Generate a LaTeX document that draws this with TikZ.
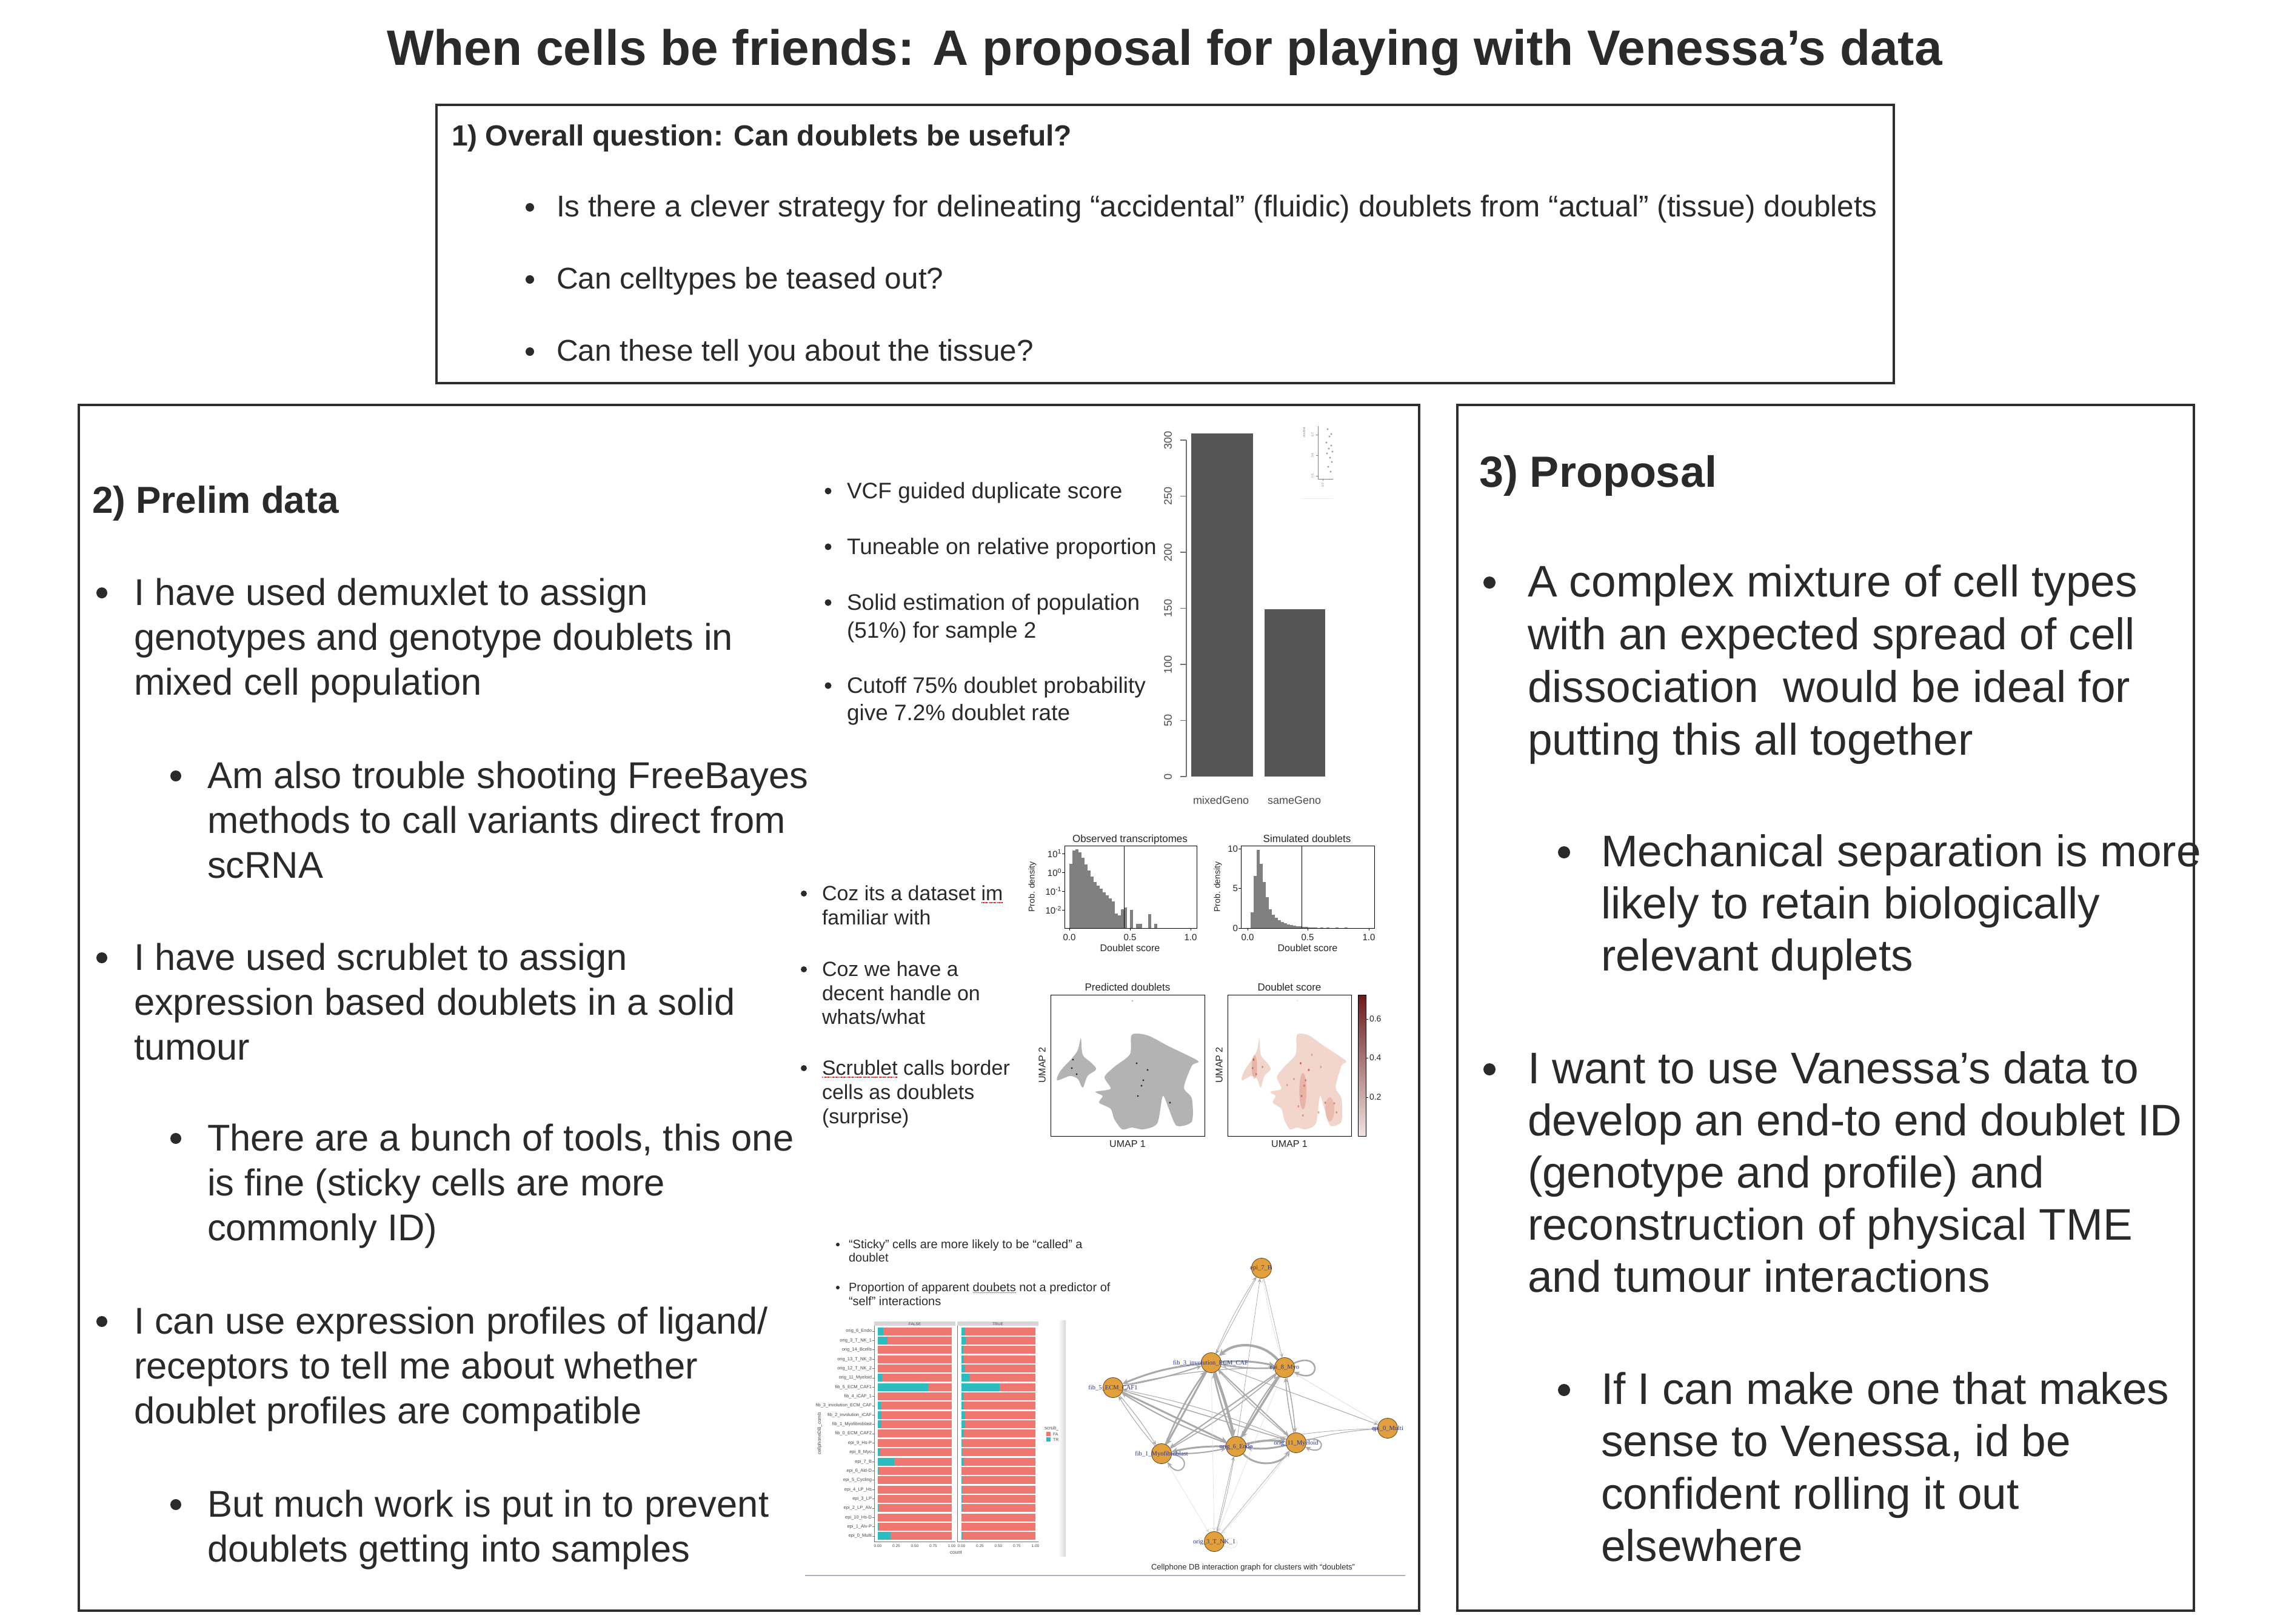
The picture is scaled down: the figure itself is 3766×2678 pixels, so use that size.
\documentclass[tikz,border=0pt]{standalone}
\usepackage{fontspec}
\setmainfont{Liberation Sans}
\newfontfamily\netserif{Liberation Serif}
\usetikzlibrary{arrows.meta}
\definecolor{txt}{HTML}{2A2A2A}
\definecolor{boxc}{HTML}{2E2E2E}
\definecolor{barc}{HTML}{555555}
\definecolor{axc}{HTML}{707070}
\definecolor{axt}{HTML}{4A4A4A}
\definecolor{histc}{HTML}{808080}
\definecolor{umapg}{HTML}{B3B3B3}
\definecolor{umapr}{HTML}{F2D6CC}
\definecolor{umaprd}{HTML}{C8553F}
\definecolor{salm}{HTML}{EF776F}
\definecolor{tealc}{HTML}{2CBBBF}
\definecolor{stripc}{HTML}{D6D6D6}
\definecolor{nodeo}{HTML}{E1A03B}
\definecolor{nodeb}{HTML}{5A4526}
\definecolor{netblue}{HTML}{2A3590}
\definecolor{edgeg}{HTML}{A9A9A9}
\definecolor{edgel}{HTML}{DCDCDC}
\definecolor{rulec}{HTML}{A9B3BE}
\definecolor{cbtop}{HTML}{6B1A1C}
\definecolor{cbmid}{HTML}{D0604A}
\definecolor{cbbot}{HTML}{F1E4E1}
\newcommand\myfs[1]{\fontsize{#1}{#1}\selectfont}
\newcommand\umapblobs[1]{%
  \fill[#1] plot[smooth cycle, tension=0.55] coordinates {(1783,1713) (1786,1740) (1800,1753) (1808,1764) (1794,1775) (1786,1794) (1778,1780) (1765,1775) (1744,1782) (1749,1767) (1768,1746) (1778,1732)};
  \fill[#1] plot[smooth cycle, tension=0.45] coordinates {(1867,1707) (1893,1708) (1928,1726) (1976,1750) (1966,1758) (1953,1794) (1966,1812) (1966,1850) (1941,1857) (1928,1829) (1918,1808) (1909,1853) (1886,1863) (1867,1860) (1851,1863) (1838,1846) (1832,1829) (1813,1819) (1819,1808) (1807,1801) (1832,1796) (1822,1777) (1838,1760) (1864,1739)};
  \fill[#1] (1868,1651) circle (1.5);}
\pgfdeclarelayer{bglayer}
\pgfdeclarelayer{edgelayer}
\pgfsetlayers{bglayer,edgelayer,main}
\begin{document}
\begin{tikzpicture}[x=1pt,y=-1pt,
  tl/.style={anchor=base west, inner sep=0, outer sep=0, text=txt},
  tc/.style={anchor=base, inner sep=0, outer sep=0, text=txt},
  ltx/.style={tl, font=\myfs{61.5}},
  rtx/.style={tl, font=\myfs{73}},
  qtx/.style={tl, font=\myfs{49.5}},
  dtx/.style={tl, font=\myfs{37}},
  stx/.style={tl, font=\myfs{34}},
  ctx/.style={tl, font=\myfs{20}},
  framebox/.style={draw=boxc, line width=4},
  bul/.style={fill=txt},
  axl/.style={draw=axc, line width=1.2},
  smalltext/.style={inner sep=0, outer sep=0, text=axt},
  cnode/.style={circle, draw=nodeb, fill=nodeo, line width=0.8, minimum size=33, inner sep=0},
  nlab/.style={inner sep=0, font=\netserif\myfs{10.5}, text=netblue},
  ed/.style={draw=edgeg, line width=#1, -{Stealth[length=6pt 1.3, width=5pt 1.5]}},
  edl/.style={draw=edgel, line width=#1, -{Stealth[length=6pt 1.3, width=5pt 1.5]}},
  spell/.style={draw=red!85!black, line width=1.3, dash pattern=on 1.3pt off 1.3pt}
]
\useasboundingbox (0,0) rectangle (3766,2678);
\begin{pgfonlayer}{bglayer}
\fill[white] (0,0) rectangle (3766,2678);
\end{pgfonlayer}

% ---------- title ----------
\node (title) [tc, font=\bfseries\myfs{82}] at (1921,107) {When cells be friends: A proposal for playing with Venessa’s data};

% ---------- box 1 ----------
\draw[framebox] (720,173) rectangle (3124,632);
\node (q0) [tl, font=\bfseries\myfs{48}] at (745,240) {1) Overall question: Can doublets be useful?};
\fill[bul] (874,342) circle (7);
\node (q1) [qtx] at (918,357) {Is there a clever strategy for delineating “accidental” (fluidic) doublets from “actual” (tissue) doublets};
\fill[bul] (874,461) circle (7);
\node (q2) [qtx] at (918,476) {Can celltypes be teased out?};
\fill[bul] (874,580) circle (7);
\node (q3) [qtx] at (918,595) {Can these tell you about the tissue?};

% ---------- box 2 ----------
\draw[framebox] (130,668) rectangle (2341,2657);
\node (p0) [tl, font=\bfseries\myfs{62}] at (152,846) {2) Prelim data};
\fill[bul] (168,978) circle (9);
\node (p1a) [ltx] at (221,998) {I have used demuxlet to assign};
\node (p1b) [ltx] at (221,1072) {genotypes and genotype doublets in};
\node (p1c) [ltx] at (221,1146) {mixed cell population};
\fill[bul] (290,1280) circle (9);
\node (p2a) [ltx] at (342,1300) {Am also trouble shooting FreeBayes};
\node (p2b) [ltx] at (342,1374) {methods to call variants direct from};
\node (p2c) [ltx] at (342,1448) {scRNA};
\fill[bul] (168,1580) circle (9);
\node (p3a) [ltx] at (221,1600) {I have used scrublet to assign};
\node (p3b) [ltx] at (221,1674) {expression based doublets in a solid};
\node (p3c) [ltx] at (221,1748) {tumour};
\fill[bul] (290,1878) circle (9);
\node (p4a) [ltx] at (342,1898) {There are a bunch of tools, this one};
\node (p4b) [ltx] at (342,1972) {is fine (sticky cells are more};
\node (p4c) [ltx] at (342,2046) {commonly ID)};
\fill[bul] (168,2180) circle (9);
\node (p5a) [ltx] at (221,2200) {I can use expression profiles of ligand/};
\node (p5b) [ltx] at (221,2274) {receptors to tell me about whether};
\node (p5c) [ltx] at (221,2348) {doublet profiles are compatible};
\fill[bul] (290,2482) circle (9);
\node (p6a) [ltx] at (342,2502) {But much work is put in to prevent};
\node (p6b) [ltx] at (342,2576) {doublets getting into samples};

% ---------- box 3 ----------
\draw[framebox] (2404,668) rectangle (3619,2657);
\node (r0) [tl, font=\bfseries\myfs{72}] at (2440,803) {3) Proposal};
\fill[bul] (2457,961) circle (10);
\node (r1a) [rtx] at (2520,984) {A complex mixture of cell types};
\node (r1b) [rtx] at (2520,1071) {with an expected spread of cell};
\node (r1c) [rtx] at (2520,1158) {dissociation\ \ would be ideal for};
\node (r1d) [rtx] at (2520,1245) {putting this all together};
\fill[bul] (2580,1406) circle (10);
\node (r2a) [rtx] at (2641,1429) {Mechanical separation is more};
\node (r2b) [rtx] at (2641,1515) {likely to retain biologically};
\node (r2c) [rtx] at (2641,1601) {relevant duplets};
\fill[bul] (2457,1764) circle (10);
\node (r3a) [rtx] at (2520,1787) {I want to use Vanessa’s data to};
\node (r3b) [rtx] at (2520,1873) {develop an end-to end doublet ID};
\node (r3c) [rtx] at (2520,1959) {(genotype and profile) and};
\node (r3d) [rtx] at (2520,2045) {reconstruction of physical TME};
\node (r3e) [rtx] at (2520,2131) {and tumour interactions};
\fill[bul] (2580,2293) circle (10);
\node (r4a) [rtx] at (2641,2316) {If I can make one that makes};
\node (r4b) [rtx] at (2641,2402) {sense to Venessa, id be};
\node (r4c) [rtx] at (2641,2489) {confident rolling it out};
\node (r4d) [rtx] at (2641,2575) {elsewhere};

% ---------- demuxlet panel ----------
\fill[bul] (1366,810) circle (5.5);
\node (d1) [dtx] at (1397,822) {VCF guided duplicate score};
\fill[bul] (1366,902) circle (5.5);
\node (d2) [dtx] at (1397,914) {Tuneable on relative proportion};
\fill[bul] (1366,994) circle (5.5);
\node (d3a) [dtx] at (1397,1006) {Solid estimation of population};
\node (d3b) [dtx] at (1397,1052) {(51\%) for sample 2};
\fill[bul] (1366,1131) circle (5.5);
\node (d4a) [dtx] at (1397,1143) {Cutoff 75\% doublet probability};
\node (d4b) [dtx] at (1397,1188) {give 7.2\% doublet rate};
% bar chart
\draw[axl] (1957,726) -- (1957,1281);
\foreach \v in {0,50,100,150,200,250,300}{
  \draw[axl] (1957,{1281-1.85*\v}) -- (1947,{1281-1.85*\v});
  \node (yt\v) [smalltext, rotate=90, anchor=south, font=\myfs{18}] at (1933,{1281-1.85*\v}) {\v};
}
\fill[barc] (1965,1281) rectangle (2067,715);
\fill[barc] (2086,1281) rectangle (2186,1005);
\node (bx1) [smalltext, anchor=base, font=\myfs{18}] at (2014,1326) {mixedGeno};
\node (bx2) [smalltext, anchor=base, font=\myfs{18}] at (2135,1326) {sameGeno};
% tiny fragment of another plot
\draw[draw=gray, line width=0.6] (2174,703) -- (2174,790) -- (2199,790);
\foreach \yy/\tt in {717/0.7,751/0.6,785/0.5}{
  \draw[draw=gray, line width=0.6] (2171,\yy) -- (2174,\yy);
  \node (ft\yy) [smalltext, rotate=90, anchor=south, font=\myfs{5}, text=gray] at (2167,\yy) {\tt};
}
\node (fdl) [smalltext, rotate=90, anchor=south, font=\myfs{5}, text=gray] at (2153,713) {doublet};
\draw[draw=gray, line width=0.6] (2182,790) -- (2182,793);
\node (fx) [smalltext, rotate=90, anchor=east, font=\myfs{5}, text=gray] at (2182,797) {0.0};
\foreach \pp in {(2190,708),(2193,720),(2196,735),(2189,748),(2194,755),(2197,762),(2191,770),(2195,778),(2188,730),(2198,745),(2192,740),(2196,716)}
  \draw[draw=gray, line width=0.5] \pp circle (1.2);
\draw[draw=black!8, line width=1] (2147,822) -- (2199,822);

% ---------- scrublet panel ----------
\fill[bul] (1326,1474) circle (5);
\node (s1a) [stx] at (1356,1485) {Coz its a dataset};
\node (s1w) [stx] at ([xshift=9.4pt]s1a.base east) {im};
\draw[spell] ([yshift=-4pt]s1w.base west) -- ([yshift=-4pt]s1w.base east);
\node (s1b) [stx] at (1356,1525) {familiar with};
\fill[bul] (1326,1599) circle (5);
\node (s2a) [stx] at (1356,1610) {Coz we have a};
\node (s2b) [stx] at (1356,1650) {decent handle on};
\node (s2c) [stx] at (1356,1689) {whats/what};
\fill[bul] (1326,1762) circle (5);
\node (s3w) [stx] at (1356,1773) {Scrublet};
\node (s3a) [stx] at (s3w.base east) {\ calls border};
\draw[spell] ([yshift=-4pt]s3w.base west) -- ([yshift=-4pt]s3w.base east);
\node (s3b) [stx] at (1356,1813) {cells as doublets};
\node (s3c) [stx] at (1356,1853) {(surprise)};
% histogram 1
\foreach \t [count=\c from 0] in {1425,1403,1401,1406,1415,1426,1436,1446,1455,1461,1466,1472,1477,1482,1487,1507,1510,1500,1497,1531,1501,1531,1524,1524,1531,1531,1508,1531,1524}
  \fill[histc] ({1764+5*\c},1531) rectangle ({1769+5*\c},\t);
\draw[black, line width=0.9] (1756,1395) rectangle (1974,1531);
\draw[black, line width=0.9] (1854,1395) -- (1854,1531);
\node (h1t) [smalltext, anchor=base, font=\myfs{17}, text=black!85] at (1864,1389) {Observed transcriptomes};
\foreach \yy/\ee in {1408/1,1439/0,1470/-1,1501/-2}{
  \draw[black, line width=0.8] (1756,\yy) -- (1752,\yy);
  \node (h1y\yy) [smalltext, anchor=east, font=\myfs{15}, text=black!85] at (1751,\yy) {10\textsuperscript{\ee}};
}
\foreach \xx/\ll in {1764/0.0,1864/0.5,1964/1.0}{
  \draw[black, line width=0.8] (\xx,1531) -- (\xx,1535);
  \node (h1x\xx) [smalltext, anchor=base, font=\myfs{15}, text=black!85] at (\xx,1551) {\ll};
}
\node (h1xl) [smalltext, anchor=base, font=\myfs{16}, text=black!85] at (1864,1569) {Doublet score};
\node (h1yl) [smalltext, rotate=90, font=\myfs{14}, text=black!85] at (1703,1463) {Prob. density};
% histogram 2
\foreach \t [count=\c from 0] in {1531,1505,1445,1402,1425,1455,1480,1500,1509,1514,1518,1521,1523,1525,1526,1527,1528,1528,1529,1529,1530,1530,1530,1531,1530,1531,1530,1531,1531,1530,1531,1531,1530}
  \fill[histc] ({2058+5*\c},1531) rectangle ({2063+5*\c},\t);
\draw[black, line width=0.9] (2047,1395) rectangle (2267,1531);
\draw[black, line width=0.9] (2147,1395) -- (2147,1531);
\node (h2t) [smalltext, anchor=base, font=\myfs{17}, text=black!85] at (2156,1389) {Simulated doublets};
\foreach \yy/\ll in {1400/10,1465/5,1531/0}{
  \draw[black, line width=0.8] (2047,\yy) -- (2043,\yy);
  \node (h2y\yy) [smalltext, anchor=east, font=\myfs{15}, text=black!85] at (2042,\yy) {\ll};
}
\foreach \xx/\ll in {2058/0.0,2157/0.5,2258/1.0}{
  \draw[black, line width=0.8] (\xx,1531) -- (\xx,1535);
  \node (h2x\xx) [smalltext, anchor=base, font=\myfs{15}, text=black!85] at (\xx,1551) {\ll};
}
\node (h2xl) [smalltext, anchor=base, font=\myfs{16}, text=black!85] at (2157,1569) {Doublet score};
\node (h2yl) [smalltext, rotate=90, font=\myfs{14}, text=black!85] at (2009,1463) {Prob. density};
% umap 1
\umapblobs{umapg}
\foreach \pp in {(1770,1748),(1768,1762),(1776,1772),(1875,1754),(1893,1765),(1886,1782),(1883,1791),(1877,1808),(1930,1819)}
  \fill[black!85] \pp circle (1.6);
\draw[black, line width=0.9] (1733,1641) rectangle (1987,1874);
\node (u1t) [smalltext, anchor=base, font=\myfs{17}, text=black!85] at (1860,1634) {Predicted doublets};
\node (u1x) [smalltext, anchor=base, font=\myfs{16}, text=black!85] at (1860,1892) {UMAP 1};
\node (u1y) [smalltext, rotate=90, font=\myfs{16}, text=black!85] at (1719,1757) {UMAP 2};
% umap 2
\begin{scope}[shift={(758,0)}, xscale=0.74]
  \umapblobs{umapr}
  \foreach \pp/\op in {(1770,1748)/0.9,(1768,1762)/0.6,(1776,1772)/0.6,(1875,1754)/0.8,(1893,1765)/0.9,(1886,1782)/0.6,(1883,1791)/0.6,(1877,1808)/0.7,(1930,1819)/0.6,(1880,1840)/0.5,(1915,1835)/0.5,(1950,1820)/0.5,(1955,1835)/0.5,(1870,1825)/0.5,(1845,1790)/0.4,(1900,1740)/0.4,(1920,1760)/0.4,(1860,1780)/0.4,(1790,1760)/0.5}
    \fill[umaprd, opacity=\op] \pp circle (2);
  \fill[umaprd, opacity=0.25] (1880,1800) ellipse (8 and 30);
  \fill[umaprd, opacity=0.2] (1940,1830) ellipse (10 and 20);
  \fill[umaprd, opacity=0.25] (1772,1760) ellipse (6 and 20);
\end{scope}
\draw[black, line width=0.9] (2025,1641) rectangle (2229,1874);
\node (u2t) [smalltext, anchor=base, font=\myfs{17}, text=black!85] at (2127,1634) {Doublet score};
\node (u2x) [smalltext, anchor=base, font=\myfs{16}, text=black!85] at (2127,1892) {UMAP 1};
\node (u2y) [smalltext, rotate=90, font=\myfs{16}, text=black!85] at (2011,1757) {UMAP 2};
% colour bar
\shade[top color=cbtop, middle color=cbmid, bottom color=cbbot] (2240,1641) rectangle (2253,1874);
\draw[black, line width=0.7] (2240,1641) rectangle (2253,1874);
\foreach \yy/\ll in {1681/0.6,1745/0.4,1810/0.2}{
  \draw[black, line width=0.7] (2253,\yy) -- (2257,\yy);
  \node (cb\yy) [smalltext, anchor=west, font=\myfs{14}, text=black!85] at (2259,\yy) {\ll};
}

% ---------- cellphone panel ----------
\fill[bul] (1382,2053) circle (3);
\node (c1a) [ctx] at (1400,2059) {“Sticky” cells are more likely to be “called” a};
\node (c1b) [ctx] at (1400,2081) {doublet};
\fill[bul] (1382,2124) circle (3);
\node (c2a) [ctx] at (1400,2130) {Proportion of apparent};
\node (c2w) [ctx] at ([xshift=5.6pt]c2a.base east) {doubets};
\node (c2x) [ctx] at (c2w.base east) {\ not a predictor of};
\draw[spell, line width=1, dash pattern=on 1pt off 1pt] ([yshift=-2.5pt]c2w.base west) -- ([yshift=-2.5pt]c2w.base east);
\node (c2b) [ctx] at (1400,2153) {“self” interactions};
% stacked bar chart
\fill[stripc] (1442,2180) rectangle (1576,2187);
\fill[stripc] (1579,2180) rectangle (1713,2187);
\node (sf) [smalltext, font=\myfs{6.5}] at (1509,2184) {FALSE};
\node (st) [smalltext, font=\myfs{6.5}] at (1646,2184) {TRUE};
\foreach \i/\lab/\pf/\pt in {
  0/orig\_6\_Endo/0.07/0.05, 1/orig\_3\_T\_NK\_1/0.13/0.06, 2/orig\_14\_Bcells/0/0.025,
  3/orig\_13\_T\_NK\_3/0/0.03, 4/orig\_12\_T\_NK\_2/0/0.05, 5/orig\_11\_Myeloid/0.055/0.11,
  6/fib\_5\_ECM\_CAF1/0.68/0.515, 7/fib\_4\_iCAF\_1/0/0.025, 8/fib\_3\_involution\_ECM\_CAF/0.04/0.03,
  9/fib\_2\_involution\_iCAF/0.045/0.05, 10/fib\_1\_Myofibroblast/0.05/0.045, 11/fib\_0\_ECM\_CAF2/0/0.035,
  12/epi\_9\_Hs-P/0/0.01, 13/epi\_8\_Myo/0.03/0.01, 14/epi\_7\_B/0.225/0.03,
  15/epi\_6\_Ald-D/0.01/0, 16/epi\_5\_Cycling/0/0.005, 17/epi\_4\_LP\_Hs/0/0.01,
  18/epi\_3\_LP/0/0.015, 19/epi\_2\_LP\_Alv/0.01/0.005, 20/epi\_10\_Hs-D/0/0,
  21/epi\_1\_Alv-P/0.01/0, 22/epi\_0\_Multi/0.175/0.02}{
  \pgfmathsetmacro\yc{2196+15.36*\i}
  \fill[salm] (1448,\yc-6.5) rectangle (1570,\yc+6.5);
  \fill[salm] (1586,\yc-6.5) rectangle (1708,\yc+6.5);
  \fill[tealc] (1448,\yc-6.5) rectangle ({1448+122*\pf},\yc+6.5);
  \fill[tealc] (1586,\yc-6.5) rectangle ({1586+122*\pt},\yc+6.5);
  \draw[axc, line width=0.6] (1439,\yc) -- (1442,\yc);
  \node (rl\i) [smalltext, anchor=east, font=\myfs{7.5}] at (1438,\yc) {\lab};
}
\draw[axc, line width=0.8] (1442,2187) -- (1442,2543) -- (1576,2543);
\draw[axc, line width=0.8] (1579,2187) -- (1579,2543) -- (1713,2543);
\foreach \k/\tt in {0/0.00,1/0.25,2/0.50,3/0.75,4/1.00}{
  \node (xf\k) [smalltext, font=\myfs{6.5}] at ({1448+30.5*\k},2550) {\tt};
  \node (xt\k) [smalltext, font=\myfs{6.5}] at ({1586+30.5*\k},2550) {\tt};
}
\node (cnt) [smalltext, font=\myfs{8}] at (1577,2561) {count};
\node (cdb) [smalltext, rotate=90, font=\myfs{8}] at (1352,2365) {cellphoneDB\_comb};
\node (lgt) [smalltext, anchor=west, font=\myfs{8}] at (1723,2356) {scrub\_rawA};
\fill[salm] (1726,2362) rectangle (1733,2369);
\fill[tealc] (1726,2371) rectangle (1733,2378);
\node (lgf) [smalltext, anchor=west, font=\myfs{7}] at (1737,2366) {FALSE};
\node (lgtr) [smalltext, anchor=west, font=\myfs{7}] at (1737,2375) {TRUE};
\fill[white] (1748,2170) rectangle (1775,2575);
\shade[left color=white, right color=black!16] (1746,2178) rectangle (1758,2567);

% network
\node (n7) [cnode] at (2081,2092) {};
\node (n3f) [cnode] at (1998,2248) {};
\node (n8) [cnode] at (2119,2256) {};
\node (n5) [cnode] at (1836,2289) {};
\node (n0) [cnode] at (2289,2356) {};
\node (n11) [cnode] at (2138,2380) {};
\node (n6) [cnode] at (2039,2386) {};
\node (n1) [cnode] at (1916,2398) {};
\node (n3t) [cnode] at (2003,2543) {};
\begin{pgfonlayer}{edgelayer}
  \draw[ed=4.5] (n3f) to[bend left=4] (n6);
  \draw[ed=2.5] (n6) to[bend left=4] (n3f);
  \draw[ed=4] (n8) to[bend right=45] (n3f);
  \draw[ed=3] (n3f) to[bend left=8] (n8);
  \draw[ed=2.5] (n8) to[bend left=6] (n3f);
  \draw[ed=3] (n3f) to[bend right=8] (n5);
  \draw[ed=2] (n5) to[bend right=4] (n3f);
  \draw[ed=3] (n3f) -- (n1);
  \draw[ed=2.5] (n1) to[bend left=6] (n3f);
  \draw[ed=3] (n5) -- (n6);
  \draw[ed=2] (n6) to[bend left=6] (n5);
  \draw[ed=1.5] (n5) -- (n11);
  \draw[ed=1] (n11) to[bend right=5] (n5);
  \draw[ed=3.5] (n8) -- (n6);
  \draw[ed=2] (n6) to[bend left=5] (n8);
  \draw[ed=2] (n8) -- (n1);
  \draw[ed=1.5] (n1) to[bend right=5] (n8);
  \draw[ed=2.5] (n8) to[out=25,in=-25,looseness=9] (n8);
  \draw[ed=3.5] (n6) to[bend left=10] (n11);
  \draw[ed=3] (n11) to[bend left=10] (n6);
  \draw[ed=3] (n6) to[bend right=50] (n11);
  \draw[ed=3] (n6) to[bend right=6] (n1);
  \draw[ed=2] (n1) to[bend right=6] (n6);
  \draw[ed=2] (n1) to[out=-5,in=-55,looseness=7] (n1);
  \draw[ed=2] (n11) to[out=15,in=-25,looseness=8] (n11);
  \draw[ed=2] (n3f) -- (n11);
  \draw[ed=1.2] (n11) to[bend left=4] (n3f);
  \draw[ed=1.5] (n8) to[bend left=4] (n11);
  \draw[ed=1.5] (n11) to[bend left=4] (n8);
  \draw[ed=1] (n5) to[bend left=4] (n1);
  \draw[ed=1] (n1) to[bend left=4] (n5);
  \draw[ed=1.2] (n5) to[bend left=6] (n8);
  \draw[ed=1] (n3f) -- (n0);
  \draw[edl=0.8] (n8) -- (n0);
  \draw[ed=1] (n11) to[bend left=5] (n0);
  \draw[ed=0.8] (n6) to[bend left=5] (n0);
  \draw[ed=0.8] (n7) -- (n3f);
  \draw[ed=0.8] (n3f) to[bend left=4] (n7);
  \draw[ed=0.7] (n7) -- (n8);
  \draw[edl=0.7] (n8) to[bend left=4] (n7);
  \draw[ed=0.7] (n6) -- (n7);
  \draw[ed=0.8] (n3t) -- (n6);
  \draw[ed=0.8] (n6) to[bend left=3] (n3t);
  \draw[ed=0.7] (n3t) -- (n11);
  \draw[edl=0.7] (n11) to[bend left=3] (n3t);
  \draw[edl=0.6] (n1) -- (n3t);
  \draw[edl=0.6] (n3f) -- (n3t);
  \draw[edl=0.6] (n8) -- (n3t);
  \draw[draw=edgel, line width=0.6] (n3t) to[out=15,in=-25,looseness=7] (n3t);
  \draw[draw=edgel!70, line width=0.6] (n5) to[out=15,in=-20,looseness=6] (n5);
\end{pgfonlayer}
\node (l7) [nlab] at (2080,2092) {epi\_7\_B};
\node (l3f) [nlab] at (1997,2248) {fib\_3\_involution\_ECM\_CAF};
\node (l8) [nlab] at (2119,2256) {epi\_8\_Myo};
\node (l5) [nlab] at (1836,2289) {fib\_5\_ECM\_CAF1};
\node (l0) [nlab] at (2289,2357) {epi\_0\_Multi};
\node (l11) [nlab] at (2138,2381) {orig\_11\_Myeloid};
\node (l6) [nlab] at (2039,2387) {orig\_6\_Endo};
\node (l1) [nlab] at (1916,2399) {fib\_1\_Myofibroblast};
\node (l3t) [nlab] at (2003,2544) {orig\_3\_T\_NK\_1};
\node (cap) [smalltext, anchor=base, font=\myfs{13}, text=txt] at (2067,2589) {Cellphone DB interaction graph for clusters with “doublets”};
\draw[draw=rulec, line width=1.5] (1328,2599) -- (2318,2599);
\end{tikzpicture}
\end{document}
